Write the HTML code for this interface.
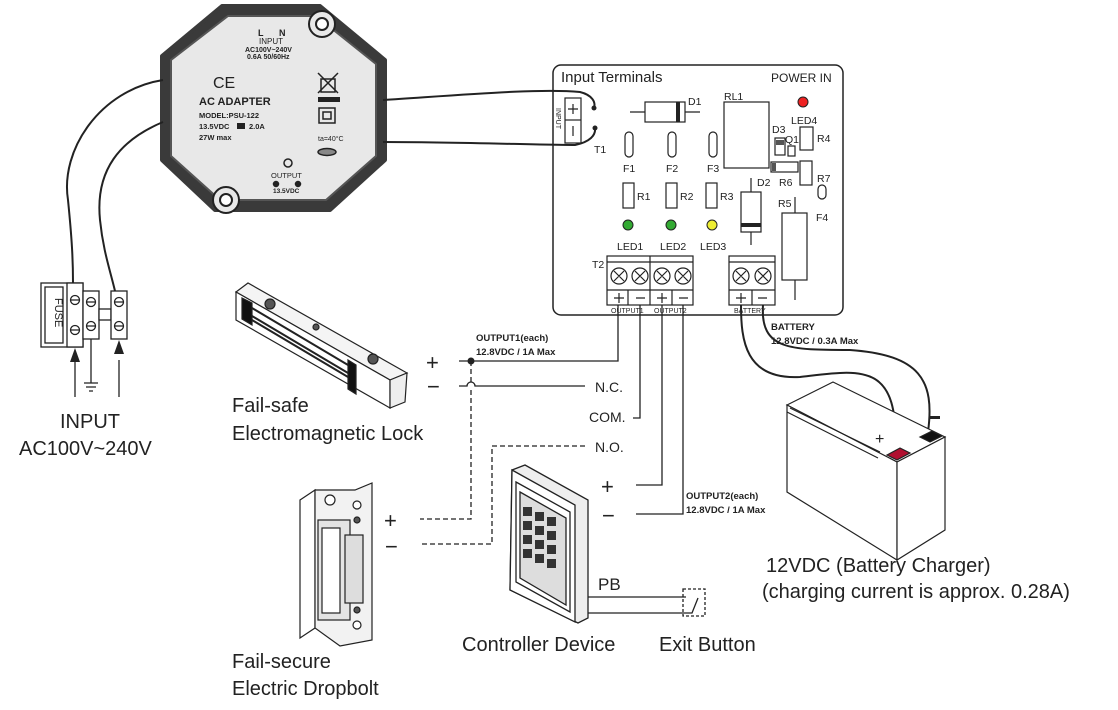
<!DOCTYPE html>
<html><head><meta charset="utf-8"><style>
html,body{margin:0;padding:0;background:#fff;}
svg{display:block;font-family:"Liberation Sans",sans-serif;}
</style></head><body>
<svg width="1118" height="710" viewBox="0 0 1118 710" xmlns="http://www.w3.org/2000/svg">
<rect width="1118" height="710" fill="#fff"/>
<!-- AC adapter -->
<g stroke="#222" stroke-width="2">
<path d="M222,6 L320,6 L385,60 L385,160 L330,210 L215,210 L162,160 L162,56 Z" fill="#3a3a3a" stroke="#3a3a3a" stroke-width="4" stroke-linejoin="round"/>
<path d="M228,16 L316,16 L376,64 L376,156 L326,200 L220,200 L171,156 L171,60 Z" fill="#e8e8e8" stroke="#555" stroke-linejoin="round"/>
<circle cx="322" cy="24" r="13" fill="#e8e8e8"/><circle cx="322" cy="24" r="6" fill="#fff"/>
<circle cx="226" cy="200" r="13" fill="#e8e8e8"/><circle cx="226" cy="200" r="6" fill="#fff"/>
</g>
<g fill="#222" font-weight="bold">
<text x="258" y="36" font-size="9">L</text><text x="279" y="36" font-size="9">N</text>
<text x="259" y="44" font-size="8" font-weight="normal">INPUT</text>
<text x="245" y="52" font-size="7">AC100V~240V</text>
<text x="247" y="59" font-size="7">0.6A 50/60Hz</text>
<text x="213" y="88" font-size="16" font-weight="normal">CE</text>
<text x="199" y="105" font-size="11">AC ADAPTER</text>
<text x="199" y="118" font-size="7.5">MODEL:PSU-122</text>
<text x="199" y="129" font-size="7.5">13.5VDC</text><rect x="237" y="123" width="8" height="6"/><text x="249" y="129" font-size="7.5">2.0A</text>
<text x="199" y="140" font-size="7.5">27W max</text>
<text x="318" y="141" font-size="7" font-weight="normal">ta=40°C</text>
<text x="271" y="178" font-size="7.5" font-weight="normal">OUTPUT</text>
<text x="273" y="193" font-size="6.5">13.5VDC</text>
</g>
<g stroke="#222" fill="none" stroke-width="1.5">
<path d="M318,73 L338,93 M338,73 L318,93"/><rect x="321" y="79" width="14" height="13"/>
<rect x="319" y="108" width="16" height="15"/><rect x="323" y="112" width="8" height="7"/>
<ellipse cx="327" cy="152" rx="9" ry="3.5" fill="#888"/>
<circle cx="288" cy="163" r="4"/><circle cx="276" cy="184" r="2.5" fill="#222"/><circle cx="298" cy="184" r="2.5" fill="#222"/>
</g>
<rect x="318" y="97" width="22" height="5" fill="#222"/>
<!-- adapter left wires -->
<g stroke="#222" stroke-width="2" fill="none">
<path d="M163,80 C100,90 60,150 68,200 C72,240 73,260 73,283"/>
<path d="M163,122 C120,140 95,170 100,220 C103,250 110,270 115,291"/>
</g>
<!-- fuse block -->
<g stroke="#222" stroke-width="1.3" fill="#fff">
<rect x="41" y="283" width="42" height="64"/><rect x="45" y="287" width="18" height="56"/>
<rect x="67" y="283" width="16" height="64"/>
<rect x="83" y="291" width="16" height="48"/>
<rect x="99" y="309" width="12" height="11"/>
<rect x="111" y="291" width="16" height="48"/>
<circle cx="75" cy="300" r="4.5"/><circle cx="75" cy="330" r="4.5"/>
<circle cx="91" cy="302" r="4.5"/><circle cx="91" cy="326" r="4.5"/>
<circle cx="119" cy="302" r="4.5"/><circle cx="119" cy="326" r="4.5"/>
<path d="M71,300 h8 M71,330 h8 M87,302 h8 M87,326 h8 M115,302 h8 M115,326 h8" fill="none"/>
<path d="M75,397 V360 M119,397 V360 M91,339 V383 M84,383 h14 M86,387 h10 M89,391 h4" fill="none"/>
</g>
<path d="M75,348 l-5,14 h10 z M119,340 l-5,14 h10 z" fill="#222"/>
<text x="55" y="298" font-size="11" transform="rotate(90 55 298)" fill="#222">FUSE</text>
<text x="60" y="428" font-size="20" fill="#222">INPUT</text>
<text x="19" y="455" font-size="20" fill="#222">AC100V~240V</text>
<!-- mag lock -->
<g stroke="#222" stroke-width="1.2">
<polygon points="236,292 248,283 407,373 390,380" fill="#f4f4f4"/>
<polygon points="236,292 390,380 390,408 236,320" fill="#fff"/>
<polygon points="390,380 407,373 405,402 390,408" fill="#eee"/>
<polygon points="242,298 252,303 252,325 242,319" fill="#111"/>
<polygon points="348,360 356,365 356,394 348,389" fill="#111"/>
<path d="M252,308 L348,365 M252,316 L348,373 M252,320 L348,377" stroke-width="2"/>
<circle cx="270" cy="304" r="5" fill="#555"/><circle cx="316" cy="327" r="3" fill="#555"/><circle cx="373" cy="359" r="5" fill="#555"/>
</g>
<text x="232" y="412" font-size="20" fill="#222">Fail-safe</text>
<text x="232" y="440" font-size="20" fill="#222">Electromagnetic Lock</text>
<!-- board -->
<rect x="553" y="65" width="290" height="250" rx="8" fill="#fff" stroke="#222" stroke-width="1.5"/>
<!-- adapter right wires -->
<g stroke="#222" stroke-width="2" fill="none">
<path d="M383,100 C460,95 540,88 580,92 C592,95 596,102 594,108"/>
<path d="M383,142 C460,142 540,145 575,145 C590,142 596,135 595,128"/>
</g>
<circle cx="594" cy="108" r="2.5" fill="#222"/><circle cx="595" cy="128" r="2.5" fill="#222"/>
<text x="561" y="82" font-size="15" fill="#222">Input Terminals</text>
<text x="771" y="82" font-size="12" fill="#222">POWER IN</text>
<g stroke="#222" stroke-width="1.2" fill="#fff">
<rect x="565" y="98" width="16" height="45"/><path d="M565,120 h16"/>
<path d="M573,104 v10 M568,109 h10 M573,126 v10"/>
<path d="M630,112 h70"/><rect x="645" y="102" width="40" height="20"/>
<rect x="724" y="102" width="45" height="66"/>
<rect x="775" y="138" width="10" height="17"/><rect x="788" y="146" width="7" height="10"/>
<rect x="800" y="127" width="13" height="23"/><rect x="771" y="162" width="27" height="10"/><rect x="800" y="161" width="12" height="24"/>
<rect x="625" y="132" width="8" height="25" rx="4"/><rect x="668" y="132" width="8" height="25" rx="4"/><rect x="709" y="132" width="8" height="25" rx="4"/>
<rect x="623" y="183" width="11" height="25"/><rect x="666" y="183" width="11" height="25"/><rect x="706" y="183" width="11" height="25"/>
<path d="M751,178 v67"/><rect x="741" y="192" width="20" height="40"/>
<path d="M795,197 v103"/><rect x="782" y="213" width="25" height="67"/>
<rect x="818" y="185" width="8" height="14" rx="4"/>
<rect x="607" y="256" width="86" height="49"/><path d="M607,262 h86 M607,290 h86 M650,256 v49 M628,290 v15 M672,290 v15"/>
<rect x="729" y="256" width="46" height="49"/><path d="M729,262 h46 M729,290 h46 M752,290 v15"/>
</g>
<rect x="676" y="102" width="4" height="20" fill="#222"/><rect x="741" y="223" width="20" height="4" fill="#222"/>
<rect x="776" y="140" width="8" height="5" fill="#555"/><rect x="772" y="163" width="4" height="8" fill="#555"/>
<g font-size="10.5" fill="#222">
<text x="688" y="105">D1</text><text x="724" y="100">RL1</text><text x="791" y="124">LED4</text>
<text x="772" y="133">D3</text><text x="785" y="143">Q1</text><text x="817" y="142">R4</text>
<text x="779" y="186">R6</text><text x="817" y="182">R7</text><text x="594" y="153">T1</text>
<text x="623" y="172">F1</text><text x="666" y="172">F2</text><text x="707" y="172">F3</text>
<text x="637" y="200">R1</text><text x="680" y="200">R2</text><text x="720" y="200">R3</text>
<text x="757" y="186">D2</text><text x="778" y="207">R5</text><text x="816" y="221">F4</text>
<text x="617" y="250">LED1</text><text x="660" y="250">LED2</text><text x="700" y="250">LED3</text>
<text x="592" y="268">T2</text>
</g>
<text x="556" y="108" font-size="7" transform="rotate(90 556 108)" fill="#222">INPUT</text>
<g stroke="#222" stroke-width="1">
<circle cx="803" cy="102" r="5" fill="#e22"/><circle cx="628" cy="225" r="5" fill="#3a3"/><circle cx="671" cy="225" r="5" fill="#3a3"/><circle cx="712" cy="225" r="5" fill="#ee3"/>
</g>
<g stroke="#222" stroke-width="1.2" fill="#fff">
<circle cx="619" cy="276" r="8"/><circle cx="640" cy="276" r="8"/><circle cx="662" cy="276" r="8"/><circle cx="683" cy="276" r="8"/>
<circle cx="741" cy="276" r="8"/><circle cx="763" cy="276" r="8"/>
<path d="M614,271 l10,10 M624,271 l-10,10 M635,271 l10,10 M645,271 l-10,10 M657,271 l10,10 M667,271 l-10,10 M678,271 l10,10 M688,271 l-10,10 M736,271 l10,10 M746,271 l-10,10 M758,271 l10,10 M768,271 l-10,10"/>
<path d="M614,298 h10 M619,293 v10 M636,298 h9 M657,298 h10 M662,293 v10 M679,298 h9 M736,298 h10 M741,293 v10 M758,298 h9"/>
</g>
<g font-size="7" fill="#222"><text x="611" y="313">OUTPUT1</text><text x="654" y="313">OUTPUT2</text><text x="734" y="313">BATTERY</text></g>
<!-- wiring -->
<g stroke="#222" stroke-width="1.3" fill="none">
<path d="M459,361 H618 V305"/>
<path d="M459,386 H467 A4,4 0 0 1 475,386 H585"/>
<path d="M633,418 H640 V305"/>
<path d="M636,485 H662 V305"/>
<path d="M636,514 H683 V305"/>
<path d="M471,361 V382 M471,390 V519 H420" stroke-dasharray="5,3"/>
<path d="M585,446 H492 V544 H420" stroke-dasharray="5,3"/>
<path d="M741,305 C741,340 745,380 800,377 C860,370 900,360 895,452" stroke-width="2"/>
<path d="M763,305 C760,350 790,350 850,350 C920,355 935,380 928,432" stroke-width="2"/>
</g>
<circle cx="471" cy="361" r="3.5" fill="#222"/>
<g fill="#222" font-size="22">
<text x="426" y="370">+</text><text x="427" y="394">−</text>
<text x="384" y="528">+</text><text x="385" y="554">−</text>
<text x="601" y="494">+</text><text x="602" y="523">−</text>
</g>
<g fill="#222" font-size="14"><text x="595" y="392">N.C.</text><text x="589" y="422">COM.</text><text x="595" y="452">N.O.</text></g>
<g fill="#222" font-size="9.5" font-weight="bold">
<text x="476" y="341">OUTPUT1(each)</text><text x="476" y="355">12.8VDC / 1A Max</text>
<text x="686" y="499">OUTPUT2(each)</text><text x="686" y="513">12.8VDC / 1A Max</text>
<text x="771" y="330">BATTERY</text><text x="771" y="344">12.8VDC / 0.3A Max</text>
</g>
<!-- battery -->
<g stroke="#222" stroke-width="1.2">
<polygon points="787,405 833,382 945,437 897,462" fill="#fff"/>
<polygon points="787,405 897,462 897,560 787,492" fill="#fff"/>
<polygon points="897,462 945,437 945,530 897,560" fill="#fff"/>
<path d="M787,412 L878,458 M790,408 L880,452" fill="none"/>
<polygon points="887,455 900,448 910,453 897,460" fill="#b01030"/>
<polygon points="920,437 932,431 942,436 930,442" fill="#111"/>
</g>
<text x="875" y="444" font-size="16" fill="#222">+</text><rect x="930" y="416" width="10" height="3" fill="#222"/>
<text x="766" y="572" font-size="20" fill="#222">12VDC (Battery Charger)</text>
<text x="762" y="598" font-size="20" fill="#222">(charging current is approx. 0.28A)</text>
<!-- dropbolt -->
<g stroke="#222" stroke-width="1.2" fill="#fff">
<polygon points="300,500 315,490 315,628 300,638"/>
<polygon points="315,490 355,490 372,483 372,640 340,646 315,628" fill="#f2f2f2"/>
<rect x="318" y="520" width="32" height="100" fill="#e4e4e4"/>
<rect x="322" y="528" width="18" height="85" fill="#fff"/>
<rect x="345" y="535" width="18" height="68" fill="#ddd"/>
<circle cx="330" cy="500" r="5"/><circle cx="357" cy="505" r="4"/><circle cx="357" cy="520" r="3" fill="#555"/>
<circle cx="357" cy="610" r="3" fill="#555"/><circle cx="357" cy="625" r="4"/>
</g>
<text x="232" y="668" font-size="20" fill="#222">Fail-secure</text>
<text x="232" y="695" font-size="20" fill="#222">Electric Dropbolt</text>
<!-- keypad -->
<g stroke="#222" stroke-width="1.3">
<path d="M512,470 L525,465 L588,500 L588,618 L578,623 L510,590 Z" fill="#eee"/>
<path d="M512,470 L575,505 L575,622 L510,590 Z" fill="#fff"/>
<path d="M516,482 L570,512 L570,612 L516,582 Z" fill="#fff"/>
<path d="M520,492 L566,518 L566,605 L520,578 Z" fill="#ddd"/>
</g>
<g fill="#333">
<rect x="523" y="507" width="9" height="9"/><rect x="535" y="512" width="9" height="9"/><rect x="547" y="517" width="9" height="9"/>
<rect x="523" y="521" width="9" height="9"/><rect x="535" y="526" width="9" height="9"/><rect x="547" y="531" width="9" height="9"/>
<rect x="523" y="535" width="9" height="9"/><rect x="535" y="540" width="9" height="9"/><rect x="547" y="545" width="9" height="9"/>
<rect x="523" y="549" width="9" height="9"/><rect x="535" y="554" width="9" height="9"/><rect x="547" y="559" width="9" height="9"/>
</g>
<text x="462" y="651" font-size="20" fill="#222">Controller Device</text>
<text x="598" y="590" font-size="17" fill="#222">PB</text>
<g stroke="#222" stroke-width="1.3" fill="none">
<path d="M588,597 H686 M588,613 H692 L698,598"/>
<rect x="683" y="589" width="22" height="27" stroke-dasharray="3,2"/>
</g>
<text x="659" y="651" font-size="20" fill="#222">Exit Button</text>
</svg>
</body></html>
